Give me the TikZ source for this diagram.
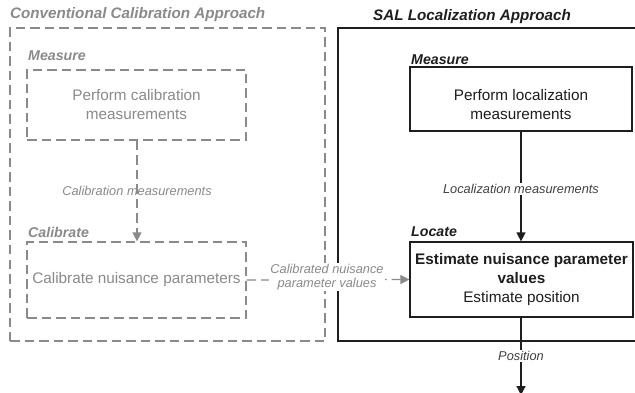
\documentclass[tikz,border=0pt]{standalone}
\usepackage{fontspec}
\setmainfont{Liberation Sans}
\usetikzlibrary{arrows.meta,positioning}
\definecolor{convgray}{HTML}{8A8A8A}
\definecolor{inkdark}{HTML}{1E1E1E}
\tikzset{
  x=1pt, y=-1pt,
  gdash/.style={draw=convgray, line width=1.2pt, dash pattern=on 9.5pt off 5pt},
  gbox/.style={gdash, inner sep=0pt, align=center, text=convgray, font=\fontsize{15.3}{19}\selectfont},
  kbox/.style={draw=inkdark, line width=1.2pt, inner sep=0pt, align=center, text=inkdark, font=\fontsize{15.3}{19}\selectfont},
  grouptitle/.style={anchor=west, inner sep=0pt, font=\fontsize{15.2}{17}\selectfont\bfseries\itshape},
  steptitle/.style={anchor=west, inner sep=0pt, font=\fontsize{14.2}{16}\selectfont\bfseries\itshape},
  flowlabel/.style={inner sep=1.5pt, align=center, font=\fontsize{12.8}{14}\selectfont\itshape},
  garrow/.style={gdash, -{Triangle[width=9pt,length=9pt]}},
  karrow/.style={draw=inkdark, line width=1.2pt, -{Triangle[width=9pt,length=9pt]}},
}
\begin{document}
\begin{tikzpicture}
\clip (0,0) rectangle (635,393);
\fill[white] (0,0) rectangle (635,393);

% conventional calibration approach (grayed out)
\node (convgrp) [gdash, inner sep=0pt, minimum width=315pt, minimum height=313pt] at (167.5,184.5) {};
\node (convtitle) [grouptitle, text=convgray] at (10,15) {Conventional Calibration Approach};

\node (cmeas) [gbox, minimum width=219pt, minimum height=70pt] at (136.5,105) {Perform calibration\\measurements};
\node (cmeastitle) [steptitle, text=convgray] at (28,56) {Measure};

\node (ccal) [gbox, minimum width=219pt, minimum height=76pt] at (136.5,280) {Calibrate nuisance parameters};
\node (ccaltitle) [steptitle, text=convgray] at (28,232) {Calibrate};

\draw[garrow] (cmeas.south -| 137,0) -- (ccal.north -| 137,0);
\node (cmlabel) [flowlabel, text=convgray] at (137,191) {Calibration measurements};

% SAL localization approach
\node (salgrp) [draw=inkdark, line width=1.2pt, inner sep=0pt, minimum width=320pt, minimum height=313pt] at (498,184.5) {};
\node (saltitle) [grouptitle, text=inkdark] at (373,17) {SAL Localization Approach};

\node (smeas) [kbox, minimum width=222pt, minimum height=64pt] at (521,99) {};
\node (smeastext) [align=center, inner sep=0pt, text=inkdark, font=\fontsize{15.3}{19}\selectfont] at (521,104.5) {Perform localization\\measurements};
\node (smeastitle) [steptitle, text=inkdark] at (411,60) {Measure};

\node (loc) [kbox, minimum width=223pt, minimum height=75pt] at (521.5,279.5) {\textbf{Estimate nuisance parameter}\\\textbf{values}\\Estimate position};
\node (loctitle) [steptitle, text=inkdark] at (411,232) {Locate};

\coordinate (posout) at (521,395);

\draw[karrow] (smeas.south) -- (smeas.south |- loc.north);
\node (lmlabel) [flowlabel, fill=white, text=inkdark!85] at (521,189) {Localization measurements};

\draw[karrow] (loc.south -| smeas.south) -- (posout);
\node (poslabel) [flowlabel, fill=white, text=inkdark!85] at (521,356) {Position};

% hand-over of calibrated parameters
\draw[garrow] (ccal.east) -- (loc.west);
\node (cplabel) [flowlabel, fill=white, text=convgray, inner sep=1pt] at (327,277) {Calibrated nuisance\\parameter values};
\end{tikzpicture}
\end{document}
